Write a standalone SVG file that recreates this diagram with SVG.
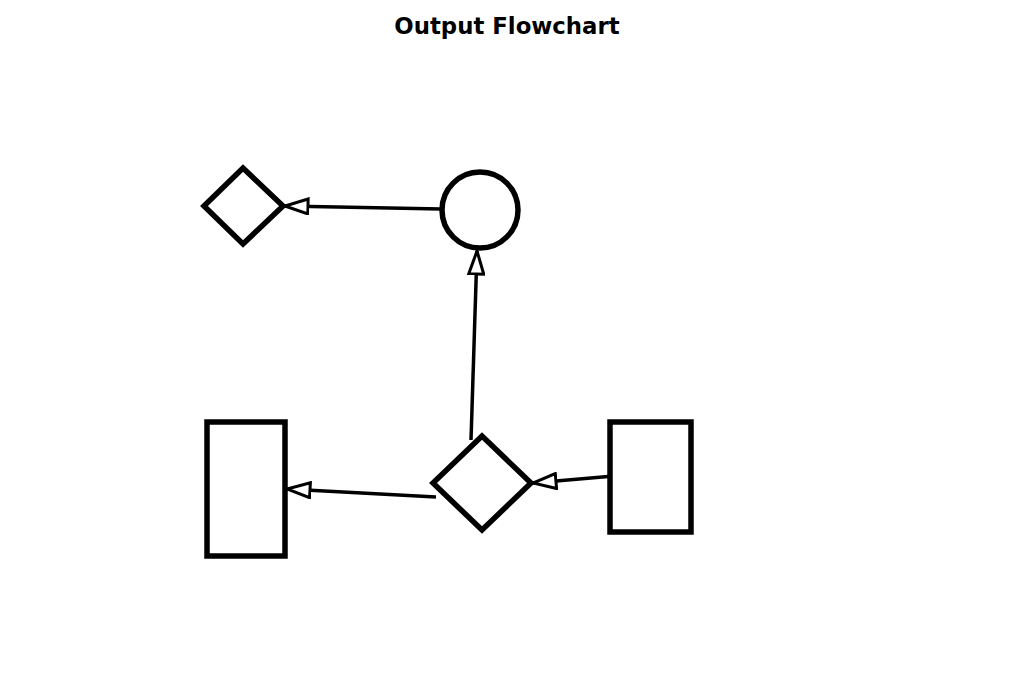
<svg xmlns="http://www.w3.org/2000/svg" width="1016" height="686" viewBox="0 0 1016 686">
<defs>
<style>
.node{fill:#fff;stroke:#000;stroke-width:5.5}
.edge{fill:none;stroke:#000;stroke-width:3.5}
.title{font-family:"DejaVu Sans",sans-serif;font-weight:bold;font-size:22.8px;fill:#000}
</style>
<marker id="arrow" viewBox="0 0 26 18" refX="24.5" refY="9" markerWidth="26" markerHeight="18" markerUnits="userSpaceOnUse" orient="auto">
<path d="M1.5,1.5 L24.5,9 L1.5,16.5 Z" fill="#fff" stroke="#000" stroke-width="3"/>
</marker>
</defs>
<rect width="1016" height="686" fill="#fff"/>
<text class="title" x="507" y="34" text-anchor="middle">Output Flowchart</text>
<g id="connectors">
<line class="edge" x1="441" y1="209" x2="285" y2="206" marker-end="url(#arrow)"/>
<line class="edge" x1="471" y1="440" x2="477" y2="251" marker-end="url(#arrow)"/>
<line class="edge" x1="436" y1="497" x2="287" y2="489" marker-end="url(#arrow)"/>
<line class="edge" x1="614" y1="476" x2="533" y2="483" marker-end="url(#arrow)"/>
</g>
<g id="n1"><polygon class="node" points="204,206 243,168 283,206 243,244"/></g>
<g id="n2"><circle class="node" cx="480" cy="210" r="38"/></g>
<g id="n3"><rect class="node" x="207" y="422" width="78" height="134"/></g>
<g id="n4"><polygon class="node" points="433,483 482,436 531,483 482,530"/></g>
<g id="n5"><rect class="node" x="610" y="422" width="81" height="110"/></g>
</svg>
